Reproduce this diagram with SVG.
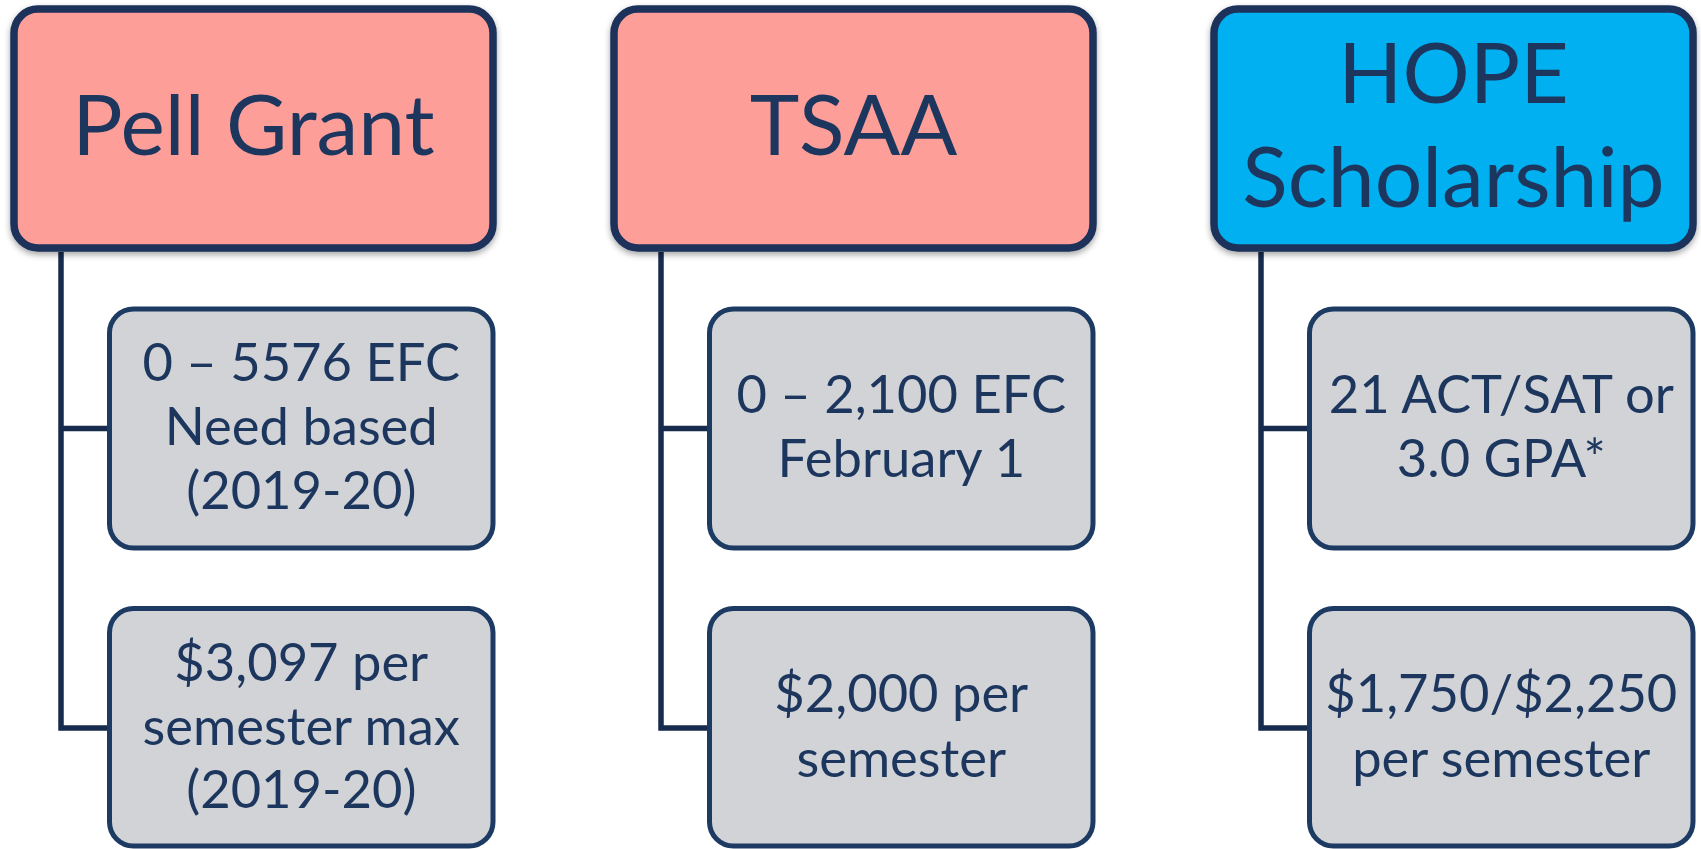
<svg xmlns="http://www.w3.org/2000/svg" width="1701" height="849" viewBox="0 0 1701 849">
  <defs>
    <filter id="shadow" x="-10%" y="-10%" width="120%" height="130%">
      <feDropShadow dx="0" dy="3" stdDeviation="3" flood-color="#000" flood-opacity="0.35"/>
    </filter>
    <style>
      .title { stroke: #1b325a; stroke-width: 7.5; filter: url(#shadow); }
      .pink { fill: #fe9e99; }
      .blue { fill: #00b0f0; }
      .child { fill: #d1d3d7; stroke: #1d3a63; stroke-width: 5; }
      .conn { fill: none; stroke: #172b4d; stroke-width: 5.5; stroke-linejoin: miter; }
      text { font-family: Lato, "Open Sans", "Liberation Sans", sans-serif; fill: #1c365e; text-anchor: middle; }
      .tt { font-size: 84px; }
      .ct { font-size: 52.5px; }
    </style>
  </defs>
  <rect width="1701" height="849" fill="#ffffff"/>

  <g id="connectors">
    <path class="conn" d="M61,252 V728 H110 M61,428.5 H110"/>
    <path class="conn" d="M661,252 V728 H710 M661,428.5 H710"/>
    <path class="conn" d="M1261,252 V728 H1310 M1261,428.5 H1310"/>
  </g>

  <g id="pell">
    <rect class="title pink" x="14" y="9" width="479" height="239" rx="24"/>
    <text class="tt" x="253.5" y="155">Pell Grant</text>
  </g>
  <g id="pell-efc">
    <rect class="child" x="109.5" y="309" width="383.5" height="239" rx="24"/>
    <text class="ct" x="301.3" y="381">0 – 5576 EFC</text>
    <text class="ct" x="301.3" y="445">Need based</text>
    <text class="ct" x="301.3" y="509">(2019-20)</text>
  </g>
  <g id="pell-amount">
    <rect class="child" x="109.5" y="608.5" width="383.5" height="237.5" rx="24"/>
    <text class="ct" x="301.3" y="681">$3,097 per</text>
    <text class="ct" x="301.3" y="745">semester max</text>
    <text class="ct" x="301.3" y="808">(2019-20)</text>
  </g>

  <g id="tsaa">
    <rect class="title pink" x="614" y="9" width="479" height="239" rx="24"/>
    <text class="tt" x="853.5" y="155">TSAA</text>
  </g>
  <g id="tsaa-efc">
    <rect class="child" x="709.5" y="309" width="383.5" height="239" rx="24"/>
    <text class="ct" x="901.3" y="413">0 – 2,100 EFC</text>
    <text class="ct" x="901.3" y="477">February 1</text>
  </g>
  <g id="tsaa-amount">
    <rect class="child" x="709.5" y="608.5" width="383.5" height="237.5" rx="24"/>
    <text class="ct" x="901.3" y="712">$2,000 per</text>
    <text class="ct" x="901.3" y="777">semester</text>
  </g>

  <g id="hope">
    <rect class="title blue" x="1214" y="9" width="479" height="239" rx="24"/>
    <text class="tt" x="1453.5" y="103">HOPE</text>
    <text class="tt" x="1453.5" y="207">Scholarship</text>
  </g>
  <g id="hope-req">
    <rect class="child" x="1309.5" y="309" width="383.5" height="239" rx="24"/>
    <text class="ct" x="1501.3" y="413">21 ACT/SAT or</text>
    <text class="ct" x="1501.3" y="477">3.0 GPA*</text>
  </g>
  <g id="hope-amount">
    <rect class="child" x="1309.5" y="608.5" width="383.5" height="237.5" rx="24"/>
    <text class="ct" x="1501.3" y="712">$1,750/$2,250</text>
    <text class="ct" x="1501.3" y="777">per semester</text>
  </g>
</svg>
